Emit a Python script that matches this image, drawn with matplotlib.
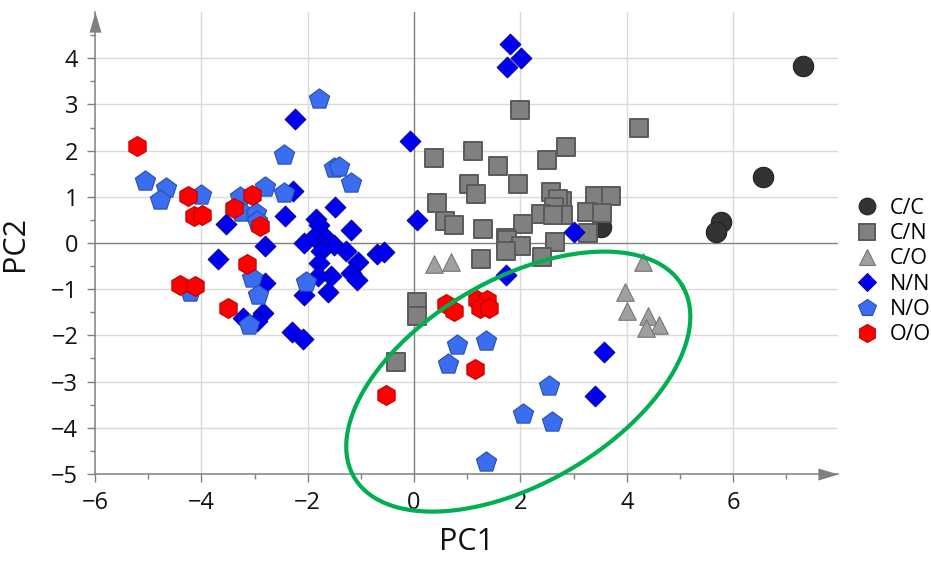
import numpy as np
import matplotlib
matplotlib.use('Agg')
import matplotlib.pyplot as plt
from matplotlib.lines import Line2D

plt.rcParams['font.family'] = ['Open Sans', 'DejaVu Sans']

# PCA scores, one pair of lists per group
cc_x = [7.31, 6.57, 5.77, 5.67, 3.52]
cc_y = [3.83, 1.42, 0.45, 0.24, 0.34]

cn_x = [1.99, 4.23, 0.38, 1.10, 1.58, 2.50, 2.86, 1.03, 1.16, 1.96, 0.43, 0.58,
        0.76, 1.30, 2.05, 2.58, 2.78, 2.70, 2.63, 2.80, 2.38, 2.62, 3.40, 3.70,
        3.25, 3.53, 3.28, 1.72, 1.75, 2.02, 1.72, 2.65, 1.26, 2.41, 0.05, 0.05,
        -0.34]
cn_y = [2.87, 2.48, 1.84, 2.00, 1.66, 1.79, 2.07, 1.28, 1.07, 1.28, 0.86, 0.48,
        0.38, 0.31, 0.42, 1.10, 0.90, 0.95, 0.79, 0.60, 0.63, 0.61, 1.01, 1.01,
        0.68, 0.66, 0.22, 0.11, 0.07, -0.07, -0.18, 0.03, -0.35, -0.30, -1.28, -1.57,
        -2.58]

co_x = [0.38, 0.70, 4.30, 3.97, 4.00, 4.39, 4.61, 4.37]
co_y = [-0.45, -0.42, -0.42, -1.07, -1.48, -1.59, -1.77, -1.84]

nn_x = [1.81, 1.75, 2.02, -0.08, 0.06, 3.00, 1.72, 3.58, 3.40,
        -2.24, -2.28, -2.42, -1.49, -1.19, -3.53, -2.81, -3.68,
        -1.85, -1.78, -2.06, -1.88, -1.66, -1.50, -1.28, -1.75, -0.69, -0.56,
        -1.78, -1.06, -1.56, -1.81, -1.19, -1.07, -2.06, -1.61, -2.30, -2.08,
        -2.80, -2.84, -3.22, -2.96]
nn_y = [4.31, 3.81, 4.00, 2.21, 0.49, 0.24, -0.70, -2.36, -3.32,
        2.69, 1.12, 0.59, 0.79, 0.29, 0.42, -0.07, -0.34,
        0.52, 0.40, 0.00, 0.14, 0.11, -0.04, -0.18, -0.18, -0.23, -0.19,
        -0.43, -0.42, -0.72, -0.72, -0.65, -0.79, -1.12, -1.05, -1.92, -2.08,
        -0.86, -1.51, -1.62, -1.68]

no_x = [0.81, 1.36, 0.64, 2.53, 2.05, 2.59, 1.36,
        -5.05, -4.66, -4.78, -4.00, -3.27, -3.25, -2.98, -2.96, -2.81, -2.45,
        -2.45, -1.79, -1.50, -1.41, -1.19, -3.05, -2.93, -3.11, -2.03, -4.22]
no_y = [-2.20, -2.13, -2.61, -3.09, -3.71, -3.88, -4.74,
        1.35, 1.19, 0.94, 1.04, 0.99, 0.68, 0.65, 0.47, 1.22, 1.08,
        1.91, 3.11, 1.62, 1.64, 1.30, -0.76, -1.13, -1.77, -0.85, -1.05]

oo_x = [-5.21, -4.25, -4.13, -3.98, -3.38, -3.05, -2.90, -3.14, -4.40, -4.12, -3.50,
        0.61, 0.76, 1.19, 1.38, 1.24, 1.41, 1.14, -0.53]
oo_y = [2.10, 1.01, 0.58, 0.61, 0.76, 1.04, 0.37, -0.45, -0.90, -0.94, -1.41,
        -1.33, -1.48, -1.23, -1.23, -1.41, -1.41, -2.72, -3.28]

# highlighted region (centre in data units, axes in pixels, tilt in degrees)
ell_center = (1.96, -3.0)
ell_axes_px = (190, 102)
ell_angle = 30.2

groups = [
    ('C/C', cc_x, cc_y, 'o', 215, 12.0, '#333333', '#222222', 0.8),
    ('C/N', cn_x, cn_y, 's', 170, 11.5, '#808080', '#5a5a5a', 1.4),
    ('C/O', co_x, co_y, '^', 160, 12.0, '#a0a0a0', '#767676', 0.8),
    ('N/N', nn_x, nn_y, 'D', 112, 9.5, '#0000ee', '#0000a0', 0.7),
    ('N/O', no_x, no_y, 'p', 235, 13.0, '#3a6df0', '#2a4fb0', 0.8),
    ('O/O', oo_x, oo_y, 'h', 205, 13.0, '#ff0000', '#c00000', 0.8),
]

fig = plt.figure(figsize=(9.31, 5.62), dpi=100)
ax = fig.add_axes([0.102, 0.1566, 0.798, 0.822])
ax.set_xlim(-6, 7.97)
ax.set_ylim(-5, 5.0)

for s in ['top', 'right']:
    ax.spines[s].set_visible(False)
for s in ['left', 'bottom']:
    ax.spines[s].set_color('#808080')
    ax.spines[s].set_linewidth(1.1)

# grid
for gx in [-4, -2, 2, 4, 6]:
    ax.axvline(gx, color='#dadada', lw=1.0, zorder=0)
for gy in [-4, -3, -2, -1, 1, 2, 3, 4]:
    ax.axhline(gy, color='#dadada', lw=1.0, zorder=0)
ax.axvline(0, color='#808080', lw=1.0, zorder=0.5)
ax.axhline(0, color='#808080', lw=1.0, zorder=0.5)

ax.set_xticks(np.arange(-6, 7, 2))
ax.set_xticks(np.arange(-6, 8, 1), minor=True)
ax.set_yticks(np.arange(-5, 5, 1))
ax.set_yticks(np.arange(-5, 4.6, 0.5), minor=True)
ax.tick_params(which='major', length=6, width=1, color='#808080',
               labelsize=17, labelcolor='#111111', pad=6)
ax.tick_params(which='minor', length=3.5, width=1, color='#808080')

# axis arrow heads
ax.plot([1], [0], transform=ax.transAxes, clip_on=False, color='#808080',
        marker=[(-2, -0.6), (0, 0), (-2, 0.6)], ms=29, mew=0, zorder=3)
ax.plot([0], [1], transform=ax.transAxes, clip_on=False, color='#808080',
        marker=[(-0.6, -2), (0, 0), (0.6, -2)], ms=29, mew=0, zorder=3)

for i, (lab, xs, ys, mk, sz, lsz, fc, ec, lw) in enumerate(groups):
    ax.scatter(xs, ys, marker=mk, s=sz, c=fc, edgecolors=ec, linewidths=lw,
               zorder=2 + i * 0.01)

# ellipse drawn in screen pixels, mapped back to data units
ppx = ax.transData.transform((1, 0))[0] - ax.transData.transform((0, 0))[0]
ppy = ax.transData.transform((0, 1))[1] - ax.transData.transform((0, 0))[1]
t = np.linspace(0, 2 * np.pi, 400)
th = np.deg2rad(ell_angle)
u = ell_axes_px[0] * np.cos(t)
v = ell_axes_px[1] * np.sin(t)
ex = ell_center[0] + (u * np.cos(th) - v * np.sin(th)) / ppx
ey = ell_center[1] + (u * np.sin(th) + v * np.cos(th)) / ppy
ax.plot(ex, ey, color='#00b050', lw=3.0, zorder=5, clip_on=False)

ax.set_xlabel('PC1', fontsize=22, color='#111111')
ax.set_ylabel('PC2', fontsize=22, color='#111111')
ax.xaxis.set_label_coords(0.5, -0.115)
ax.yaxis.set_label_coords(-0.088, 0.5)

handles = [Line2D([], [], ls='none', marker=g[3], ms=g[5], mfc=g[6], mec=g[7],
                  mew=g[8], label=g[0]) for g in groups]
fig.legend(handles=handles, loc='upper left', bbox_to_anchor=(0.92, 0.648),
           frameon=False, fontsize=15.5, handlelength=1.0, handletextpad=0.55,
           labelspacing=0.2, borderpad=0, borderaxespad=0)

fig.savefig('out.png', dpi=100)
